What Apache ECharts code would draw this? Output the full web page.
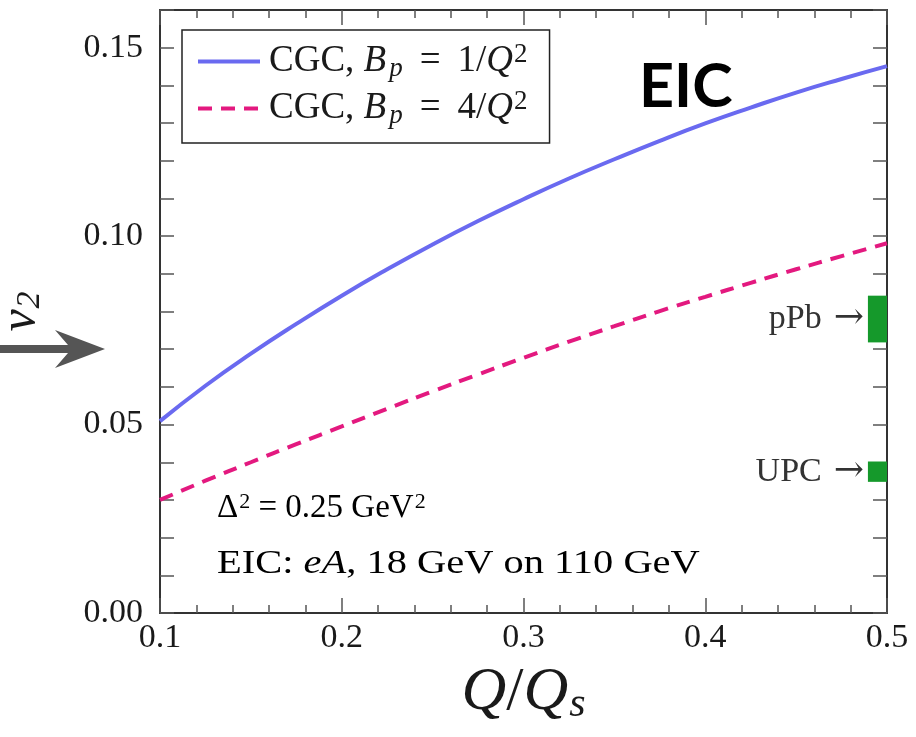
<!DOCTYPE html>
<html>
<head>
<meta charset="utf-8">
<script src="https://cdn.jsdelivr.net/npm/echarts@6/dist/echarts.min.js"></script>
<style>
  html, body { margin: 0; padding: 0; background: #fff; }
  #chart { width: 916px; height: 737px; }
</style>
</head>
<body>
<div id="chart"></div>
<script>
// Q/Qs sample points along the horizontal axis
const qRatio = [0.100, 0.125, 0.150, 0.175, 0.200, 0.225, 0.250, 0.275, 0.300,
                0.325, 0.350, 0.375, 0.400, 0.425, 0.450, 0.475, 0.500];

// v2 from the CGC calculation, Bp = 1/Q^2 (solid blue)
const v2Bp1 = [0.0509, 0.0603, 0.0688, 0.0767, 0.0842, 0.0912, 0.0978, 0.1040, 0.1098,
               0.1153, 0.1204, 0.1253, 0.1299, 0.1341, 0.1381, 0.1417, 0.1451];

// v2 from the CGC calculation, Bp = 4/Q^2 (dashed magenta)
const v2Bp4 = [0.0300, 0.0351, 0.0400, 0.0448, 0.0495, 0.0542, 0.0588, 0.0633, 0.0677,
               0.0720, 0.0761, 0.0801, 0.0839, 0.0876, 0.0912, 0.0947, 0.0981];

// measured v2 bands shown at the right edge
const bandNames = ['pPb', 'UPC'];
const bandLow   = [0.0718, 0.0348];
const bandHigh  = [0.0842, 0.0402];
const bandFrom  = [0.4895, 0.4895];
const bandTo    = [0.5, 0.5];

// tick labels
const xTickLabels = ['0.1', '0.2', '0.3', '0.4', '0.5'];
const yTickLabels = ['0.00', '0.05', '0.10', '0.15'];

const seriesNames = ['CGC, Bp = 1/Q^2', 'CGC, Bp = 4/Q^2'];

const SERIF = '"Liberation Serif", "Times New Roman", serif';
const INK = '#1a1a1a';
const FRAME = '#333';
const TICK = '#555';

// rich-text styles for small math snippets (italic symbols, sub/superscripts)
const mathRich = (size, eqPad, subScale, subPad, leadPad) => {
  const s = Math.round(size * (subScale || 0.68));
  const shift = Math.round(size * 0.38);
  return {
    r:   { fontFamily: SERIF, fontSize: size, color: INK, lineHeight: size + 4 },
    lead:{ fontFamily: SERIF, fontSize: size, color: INK, lineHeight: size + 4, padding: [0, 0, 0, leadPad || 0] },
    i:   { fontFamily: SERIF, fontSize: size, color: INK, fontStyle: 'italic', lineHeight: size + 4 },
    eq:  { fontFamily: SERIF, fontSize: size, color: INK, lineHeight: size + 4, padding: [0, eqPad, 0, eqPad] },
    sub: { fontFamily: SERIF, fontSize: s, color: INK, fontStyle: 'italic',
           lineHeight: s, padding: [shift, 0, 0, subPad || 1] },
    sup: { fontFamily: SERIF, fontSize: s, color: INK,
           lineHeight: s, padding: [0, 0, shift, 1] },
    ar:  { fontFamily: '"DejaVu Serif", serif', fontSize: size + 2, color: INK, lineHeight: size + 4,
           padding: [0, 0, 0, 12] }
  };
};

const lineData = (ys) => qRatio.map((x, k) => [x, ys[k]]);

const bandData = bandNames.map((n, k) => ({
  name: n,
  value: [bandFrom[k], bandTo[k], bandLow[k], bandHigh[k]]
}));

const chart = echarts.init(document.getElementById('chart'), null, { renderer: 'canvas' });

const option = {
  backgroundColor: '#fff',
  animation: false,
  grid: { left: 160, right: 29, top: 10, bottom: 124, containLabel: false, outerBoundsMode: 'none' },
  legend: {
    data: seriesNames,
    orient: 'vertical',
    left: 182,
    top: 30,
    itemWidth: 62,
    itemHeight: 20,
    itemGap: 6,
    padding: [11, 22, 14, 14],
    backgroundColor: '#fff',
    borderColor: '#222',
    borderWidth: 1.5,
    borderRadius: 0,
    selectedMode: false,
    itemStyle: { opacity: 0 },
    lineStyle: { width: 4 },
    formatter: (name) => {
      const n = name.indexOf('4/') >= 0 ? '4' : '1';
      return '{lead|CGC, }{i|B}{sub|p}{eq|=}{r|' + n + '/}{i|Q}{sup|2}';
    },
    textStyle: { rich: mathRich(37, 17, 0.72, 3, 4) }
  },
  xAxis: [{
    type: 'value',
    min: 0.1, max: 0.5, interval: 0.1,
    position: 'bottom',
    axisLine: { show: true, onZero: false, lineStyle: { color: FRAME, width: 2 } },
    axisTick: { show: true, inside: true, length: 15, lineStyle: { color: TICK, width: 1.5 } },
    minorTick: { show: true, splitNumber: 5, length: 8, lineStyle: { color: TICK, width: 1.5 } },
    splitLine: { show: false },
    axisLabel: {
      margin: 8,
      fontFamily: SERIF, fontSize: 34, color: INK,
      formatter: (v) => xTickLabels[Math.round((v - 0.1) * 10)] || ''
    },
    name: '{i|Q}{r|/}{i|Q}{sub|s}',
    nameLocation: 'middle',
    nameGap: 44,
    nameTextStyle: { rich: mathRich(62, 0) }
  }, {
    type: 'value',
    min: 0.1, max: 0.5, interval: 0.1,
    position: 'top',
    axisLine: { show: true, onZero: false, lineStyle: { color: FRAME, width: 2 } },
    axisTick: { show: true, inside: true, length: 15, lineStyle: { color: TICK, width: 1.5 } },
    minorTick: { show: true, splitNumber: 5, length: 8, lineStyle: { color: TICK, width: 1.5 } },
    splitLine: { show: false },
    axisLabel: { show: false }
  }],
  yAxis: [{
    type: 'value',
    min: 0, max: 0.16, interval: 0.01,
    position: 'left',
    axisLine: { show: true, onZero: false, lineStyle: { color: FRAME, width: 2 } },
    axisTick: { show: true, inside: true, length: 14, lineStyle: { color: TICK, width: 1.5 } },
    splitLine: { show: false },
    axisLabel: {
      margin: 17,
      fontFamily: SERIF, fontSize: 34, color: INK,
      formatter: (v) => {
        const k = Math.round(v * 100);
        return k % 5 === 0 ? (yTickLabels[k / 5] || '') : '';
      }
    },
    name: '{i|v}{sub|2}',
    nameLocation: 'middle',
    nameRotate: 90,
    nameGap: 112,
    nameTextStyle: { rich: mathRich(50, 0) }
  }, {
    type: 'value',
    min: 0, max: 0.16, interval: 0.01,
    position: 'right',
    axisLine: { show: true, onZero: false, lineStyle: { color: FRAME, width: 2 } },
    axisTick: { show: true, inside: true, length: 14, lineStyle: { color: TICK, width: 1.5 } },
    splitLine: { show: false },
    axisLabel: { show: false }
  }],
  series: [{
    name: seriesNames[0],
    type: 'line',
    data: lineData(v2Bp1),
    smooth: 0.5,
    symbol: 'none',
    lineStyle: { color: '#6a6af0', width: 4 },
    itemStyle: { color: '#6a6af0' },
    z: 3
  }, {
    name: seriesNames[1],
    type: 'line',
    data: lineData(v2Bp4),
    smooth: 0.5,
    symbol: 'none',
    lineStyle: { color: '#e3197f', width: 4, type: [14, 9] },
    itemStyle: { color: '#e3197f' },
    z: 3
  }, {
    name: 'bands',
    type: 'custom',
    data: bandData,
    z: 4,
    renderItem: (params, api) => {
      const p0 = api.coord([api.value(0), api.value(3)]);
      const p1 = api.coord([api.value(1), api.value(2)]);
      return {
        type: 'rect',
        shape: { x: p0[0], y: p0[1], width: p1[0] - p0[0], height: p1[1] - p0[1] },
        style: { fill: '#15992b' },
        textContent: {
          style: {
            text: '{r|' + bandNames[params.dataIndex] + '}{ar|\u2192}',
            rich: mathRich(34, 0)
          }
        },
        textConfig: { position: 'left', distance: 4 }
      };
    }
  }],
  graphic: [{
    type: 'text',
    left: 217, top: 491,
    scaleX: 1.0,
    style: { text: '{r|\u0394}{sup|2}{r| = 0.25 GeV}{sup|2}', rich: mathRich(33, 0) }
  }, {
    type: 'text',
    left: 217, top: 547,
    scaleX: 1.19,
    style: {
      text: '{r|EIC: }{i|eA}{r|, 18 GeV on 110 GeV}',
      rich: mathRich(34, 0)
    }
  }, {
    type: 'text',
    left: 639, top: 57,
    style: {
      text: 'EIC',
      fontFamily: 'Lato, "Open Sans", sans-serif',
      fontWeight: 'bold',
      fontSize: 61,
      fill: '#000'
    }
  }, {
    type: 'polygon',
    shape: { points: [[0, 345], [68, 345], [55, 330], [105, 349], [55, 368], [68, 353], [0, 353]] },
    style: { fill: '#555' }
  }]
};

chart.setOption(option);
</script>
</body>
</html>
